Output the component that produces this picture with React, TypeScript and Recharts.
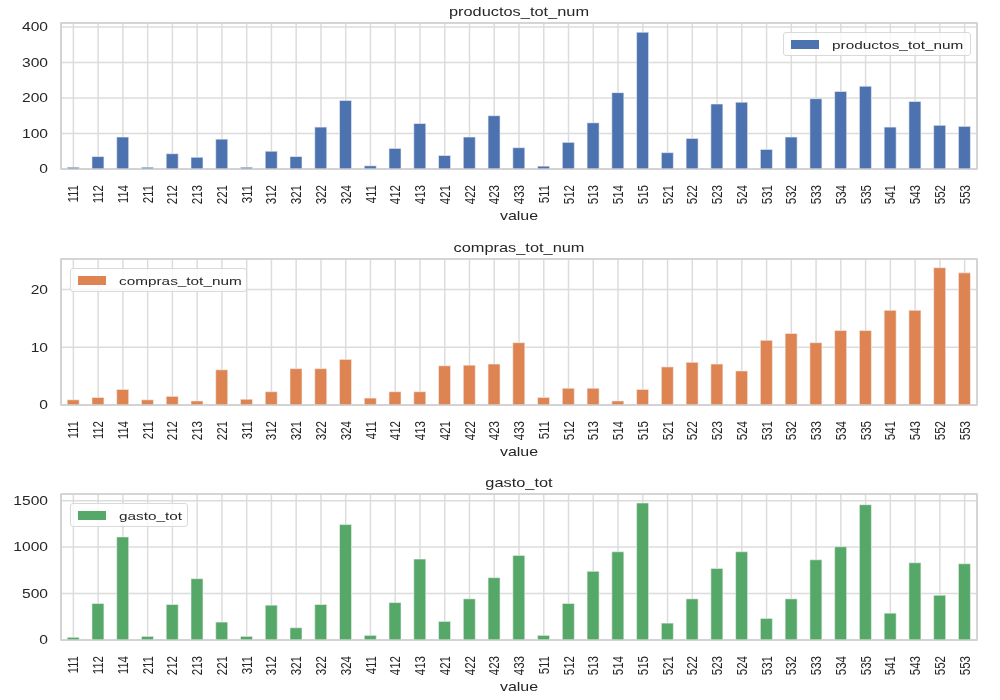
import React from 'react';
import {
  BarChart,
  Bar,
  XAxis,
  YAxis,
  CartesianGrid,
  Legend,
  ReferenceArea,
} from 'recharts';

const categories = [
  '111', '112', '114', '211', '212', '213', '221', '311', '312', '321', '322', '324',
  '411', '412', '413', '421', '422', '423', '433', '511', '512', '513', '514', '515',
  '521', '522', '523', '524', '531', '532', '533', '534', '535', '541', '543', '552', '553',
];

const productosTotNum = [
  5, 35, 90, 5, 43, 33, 84, 5, 50, 35, 118, 193,
  9, 58, 128, 38, 90, 150, 60, 8, 75, 130, 215, 385,
  46, 86, 183, 188, 55, 90, 198, 218, 233, 118, 190, 123, 120,
];

const comprasTotNum = [
  0.9, 1.3, 2.7, 0.9, 1.5, 0.7, 6.1, 1.0, 2.3, 6.3, 6.3, 7.9,
  1.2, 2.3, 2.3, 6.8, 6.9, 7.1, 10.8, 1.3, 2.9, 2.9, 0.7, 2.7,
  6.6, 7.4, 7.1, 5.9, 11.2, 12.4, 10.8, 12.9, 12.9, 16.4, 16.4, 23.8, 22.9,
];

const gastoTot = [
  29, 393, 1110, 39, 382, 660, 193, 39, 375, 132, 382, 1243,
  50, 403, 871, 200, 443, 671, 911, 50, 393, 739, 950, 1475,
  182, 443, 771, 950, 232, 443, 864, 1004, 1457, 289, 832, 482, 821,
];

const rows = categories.map((c, i) => ({
  value: c,
  productos_tot_num: productosTotNum[i],
  compras_tot_num: comprasTotNum[i],
  gasto_tot: gastoTot[i],
}));

const FONT = '"Liberation Sans", Arial, sans-serif';
const TEXT = '#262626';
// the picture is a bit wider than tall, text looks stretched sideways
const SX = 1.3;

const RotTick = (props: any) => {
  const { x, y, payload } = props;
  return (
    <text
      transform={`translate(${x} ${y}) scale(${SX} 1) rotate(-90)`}
      textAnchor="end"
      dominantBaseline="central"
      fontSize={11.5}
      fill={TEXT}
      fontFamily={FONT}
    >
      {payload.value}
    </text>
  );
};

const YTick = (props: any) => {
  const { x, y, payload } = props;
  return (
    <text
      transform={`translate(${x} ${y}) scale(${SX} 1)`}
      textAnchor="end"
      dominantBaseline="central"
      fontSize={12}
      fill={TEXT}
      fontFamily={FONT}
    >
      {payload.value}
    </text>
  );
};

const XLabel = (props: any) => {
  const { viewBox } = props;
  const cx = viewBox.x + viewBox.width / 2;
  const by = viewBox.y + viewBox.height - 4;
  return (
    <text
      transform={`translate(${cx} ${by}) scale(${SX} 1)`}
      textAnchor="middle"
      fontSize={12.3}
      fill={TEXT}
      fontFamily={FONT}
    >
      value
    </text>
  );
};

type PanelProps = {
  top: number;
  dataKey: string;
  color: string;
  domain: [number, number];
  ticks: number[];
  legendLeft: number;
  legendTextW: number;
};

function Panel({ top, dataKey, color, domain, ticks, legendLeft, legendTextW }: PanelProps) {
  const legendContent = () => (
    <div
      style={{
        display: 'inline-flex',
        alignItems: 'center',
        border: '1px solid #d9d9d9',
        borderRadius: 3,
        background: 'rgba(255,255,255,0.8)',
        padding: '3px 8px 3px 7px',
        fontFamily: FONT,
        color: TEXT,
        height: 16,
      }}
    >
      <span style={{ display: 'inline-block', width: 28, height: 9, background: color, marginRight: 13 }} />
      <span style={{ display: 'inline-block', width: legendTextW, whiteSpace: 'nowrap' }}>
        <span
          style={{
            display: 'inline-block',
            fontSize: 11.8,
            lineHeight: '16px',
            transform: `scaleX(${SX})`,
            transformOrigin: 'left center',
          }}
        >
          {dataKey}
        </span>
      </span>
    </div>
  );

  return (
    <div style={{ position: 'absolute', left: 0, top, width: 1000, height: 236 }}>
      <div
        style={{
          position: 'absolute',
          left: 61,
          width: 916,
          top: 4,
          textAlign: 'center',
          fontFamily: FONT,
          fontSize: 12.6,
          color: TEXT,
          lineHeight: '16px',
          transform: `scaleX(${SX})`,
          transformOrigin: '458px 0',
        }}
      >
        {dataKey}
      </div>
      <BarChart
        width={1000}
        height={236}
        data={rows}
        margin={{ top: 23, right: 23, left: 0, bottom: 12 }}
        barCategoryGap="25%"
      >
        <CartesianGrid stroke="#dcdcdc" strokeWidth={1.5} />
        <XAxis
          dataKey="value"
          height={55}
          tick={<RotTick />}
          tickLine={false}
          tickSize={0}
          tickMargin={16}
          interval={0}
          axisLine={{ stroke: '#d0d0d0' }}
          label={<XLabel />}
        />
        <YAxis
          width={61}
          domain={domain}
          ticks={ticks}
          type="number"
          allowDataOverflow
          tickLine={false}
          tickSize={0}
          tickMargin={13}
          axisLine={{ stroke: '#d0d0d0' }}
          tick={<YTick />}
        />
        <ReferenceArea y1={domain[0]} y2={domain[1]} fill="none" stroke="#d0d0d0" strokeWidth={1.5} />
        <Legend
          layout="horizontal"
          verticalAlign="middle"
          align="center"
          content={legendContent}
          wrapperStyle={{ position: 'absolute', top: 32, left: legendLeft, width: 'auto' }}
        />
        <Bar dataKey={dataKey} fill={color} stroke="#f2f2f2" strokeWidth={0.6} isAnimationActive={false} />
      </BarChart>
    </div>
  );
}

export default function App() {
  return (
    <div style={{ position: 'fixed', left: 0, top: 0, width: 1000, height: 700, background: '#fff' }}>
      <Panel
        top={0}
        dataKey="productos_tot_num"
        color="#4c72b0"
        domain={[0, 411]}
        ticks={[0, 100, 200, 300, 400]}
        legendLeft={783}
        legendTextW={130}
      />
      <Panel
        top={236}
        dataKey="compras_tot_num"
        color="#dd8452"
        domain={[0, 25.3]}
        ticks={[0, 10, 20]}
        legendLeft={70}
        legendTextW={119}
      />
      <Panel
        top={471}
        dataKey="gasto_tot"
        color="#55a868"
        domain={[0, 1572]}
        ticks={[0, 500, 1000, 1500]}
        legendLeft={70}
        legendTextW={60}
      />
    </div>
  );
}
